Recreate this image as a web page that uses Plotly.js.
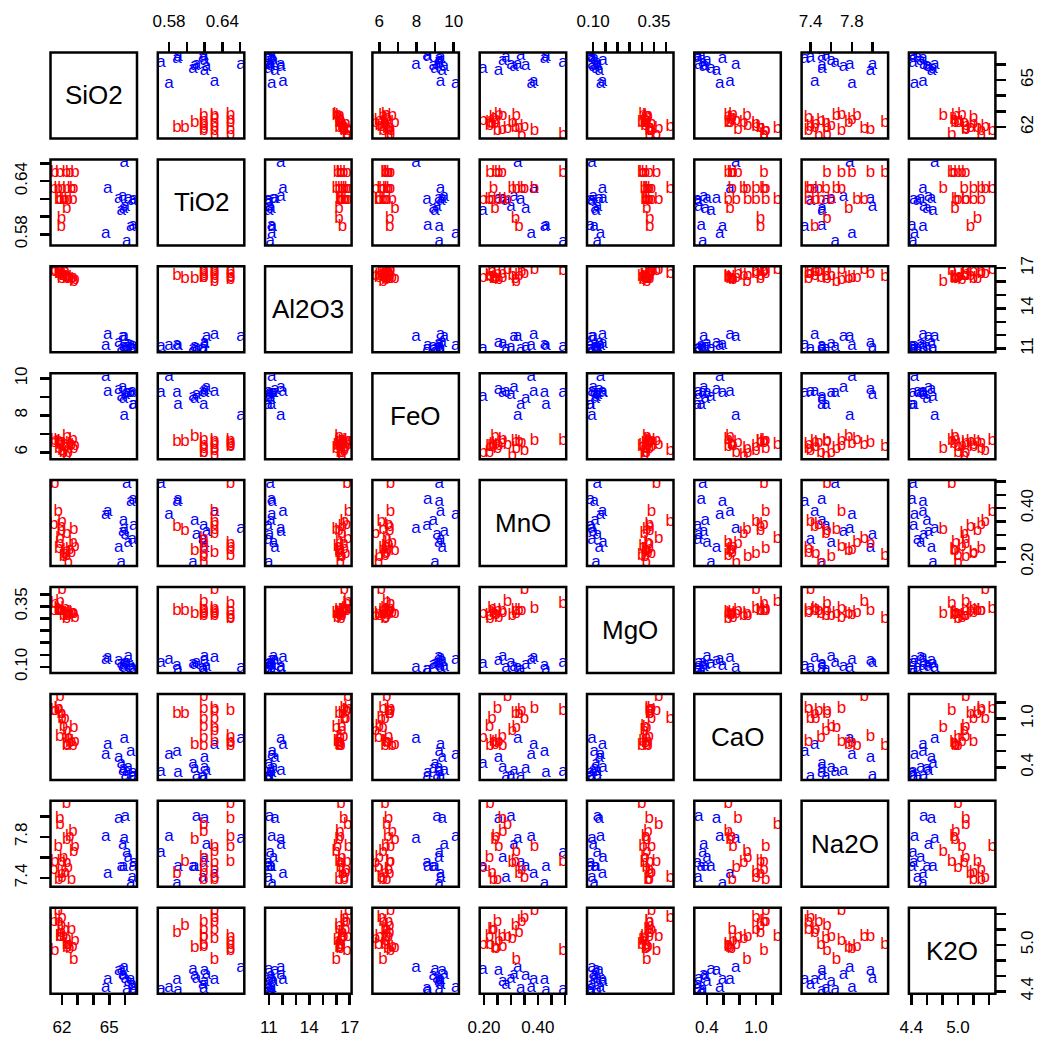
<!DOCTYPE html>
<html>
<head>
<meta charset="utf-8">
<script src="https://cdn.plot.ly/plotly-3.0.1.min.js"></script>
<style>
  html, body { margin: 0; padding: 0; background: #ffffff; }
  #chart { width: 1037px; height: 1038px; }
</style>
</head>
<body>
<div id="chart"></div>
<script>
// Oxide composition (wt%) of two glass groups, a (first 14) and b (last 20)
const group = [
  'a','a','a','a','a','a','a','a','a','a','a','a','a','a',
  'b','b','b','b','b','b','b','b','b','b','b','b','b','b','b','b','b','b','b','b'
];

const SiO2 = [
  64.77, 64.90, 66.10, 66.35, 66.50, 65.75, 65.90, 66.00, 66.45, 66.20, 65.60, 65.85, 66.55, 65.95,
  61.95, 61.98, 62.30, 61.88, 61.80, 62.10, 62.40, 62.70, 62.20, 61.76, 62.00, 62.30, 62.60, 62.74, 61.48, 61.54, 61.86, 62.29, 62.50, 62.82
];
const TiO2 = [
  0.580, 0.631, 0.571, 0.589, 0.590, 0.607, 0.609, 0.611, 0.618, 0.620, 0.620, 0.622, 0.619, 0.661,
  0.589, 0.598, 0.609, 0.619, 0.619, 0.619, 0.619, 0.619, 0.619, 0.631, 0.631, 0.631, 0.631, 0.631, 0.631, 0.649, 0.649, 0.649, 0.649, 0.649
];
const Al2O3 = [
  11.22, 12.05, 11.10, 11.25, 11.20, 11.00, 11.15, 11.05, 10.98, 11.35, 11.45, 11.90, 10.96, 11.88,
  16.46, 16.21, 16.21, 16.85, 16.60, 16.40, 16.30, 16.25, 16.70, 16.90, 16.60, 16.40, 16.20, 16.00, 16.75, 16.80, 16.55, 16.35, 16.30, 16.10
];
const FeO = [
  10.11, 9.29, 9.23, 9.23, 8.60, 9.00, 8.90, 9.10, 9.30, 9.20, 9.39, 9.50, 8.57, 7.98,
  6.56, 6.56, 6.84, 6.40, 6.20, 6.00, 5.95, 6.70, 6.30, 6.60, 6.10, 5.80, 6.40, 6.20, 6.50, 6.60, 6.50, 6.30, 6.45, 6.35
];
const MnO = [
  0.375, 0.385, 0.493, 0.424, 0.430, 0.196, 0.355, 0.300, 0.282, 0.270, 0.254, 0.311, 0.336, 0.325,
  0.330, 0.317, 0.241, 0.287, 0.250, 0.220, 0.196, 0.270, 0.230, 0.387, 0.350, 0.305, 0.235, 0.320, 0.340, 0.493, 0.268, 0.222, 0.245, 0.255
];
const MgO = [
  0.130, 0.138, 0.117, 0.105, 0.088, 0.112, 0.108, 0.118, 0.095, 0.140, 0.125, 0.100, 0.090, 0.095,
  0.333, 0.333, 0.320, 0.370, 0.330, 0.313, 0.318, 0.325, 0.340, 0.340, 0.417, 0.310, 0.325, 0.320, 0.330, 0.360, 0.330, 0.300, 0.315, 0.305
];
const CaO = [
  0.557, 0.682, 0.350, 0.590, 0.330, 0.450, 0.380, 0.300, 0.290, 0.400, 0.516, 0.360, 0.285, 0.753,
  1.055, 1.055, 0.682, 1.265, 1.120, 0.900, 0.760, 0.660, 1.000, 1.120, 1.000, 0.850, 0.710, 0.890, 1.100, 1.100, 0.780, 0.660, 0.700, 0.720
];
const Na2O = [
  7.80, 7.44, 7.64, 7.344, 7.507, 7.51, 7.51, 8.00, 7.40, 7.60, 7.98, 7.72, 7.55, 7.78,
  7.44, 7.56, 7.77, 7.92, 7.38, 7.60, 7.50, 7.85, 7.45, 7.70, 7.40, 7.55, 7.38, 7.65, 7.48, 7.56, 7.98, 8.12, 7.80, 7.70
];
const K2O = [
  4.44, 4.55, 4.42, 4.55, 4.41, 4.68, 4.60, 4.56, 4.48, 4.52, 4.66, 4.62, 4.43, 4.70,
  5.16, 5.25, 4.96, 5.10, 5.30, 5.10, 5.00, 4.97, 5.20, 5.44, 5.35, 5.08, 5.20, 4.81, 5.30, 4.92, 5.10, 5.00, 4.95, 5.05
];

const varNames = ['SiO2', 'TiO2', 'Al2O3', 'FeO', 'MnO', 'MgO', 'CaO', 'Na2O', 'K2O'];
const columns = [SiO2, TiO2, Al2O3, FeO, MnO, MgO, CaO, Na2O, K2O];

// Axis ticks and the subset of tick labels printed
const tickValues = [
  [62, 63, 64, 65, 66],
  [0.58, 0.60, 0.62, 0.64, 0.66],
  [11, 12, 13, 14, 15, 16, 17],
  [6, 7, 8, 9, 10],
  [0.20, 0.25, 0.30, 0.35, 0.40, 0.45, 0.50],
  [0.10, 0.15, 0.20, 0.25, 0.30, 0.35, 0.40],
  [0.4, 0.6, 0.8, 1.0, 1.2],
  [7.4, 7.6, 7.8, 8.0],
  [4.4, 4.6, 4.8, 5.0, 5.2, 5.4]
];
const tickLabels = [
  ['62', '', '', '65', ''],
  ['0.58', '', '', '0.64', ''],
  ['11', '', '', '14', '', '', '17'],
  ['6', '', '8', '', '10'],
  ['0.20', '', '', '', '0.40', '', ''],
  ['0.10', '', '', '', '', '0.35', ''],
  ['0.4', '', '', '1.0', ''],
  ['7.4', '', '7.8', ''],
  ['4.4', '', '', '5.0', '', '']
];

// Each variable's range padded by 4% on both sides
function paddedRange(v) {
  const lo = Math.min(...v), hi = Math.max(...v);
  const pad = (hi - lo) * 0.04;
  return [lo - pad, hi + pad];
}

const groupColors = { a: '#0000ff', b: '#ff0000' };
const FONT = 'Liberation Sans, Arial, Helvetica, sans-serif';

// Panel geometry in pixels
const W = 1037, H = 1038;
const left0 = 50.5, top0 = 52.5, stepX = 107.3, stepY = 106.9, panelW = 86.5, panelH = 86;

const n = varNames.length;
const suffix = i => (i === 0 ? '' : String(i + 1));

const traces = [];
for (let r = 0; r < n; r++) {
  for (let c = 0; c < n; c++) {
    if (r === c) continue;
    ['a', 'b'].forEach(g => {
      const xs = [], ys = [], labels = [];
      for (let k = 0; k < group.length; k++) {
        if (group[k] !== g) continue;
        xs.push(columns[c][k]);
        ys.push(columns[r][k]);
        labels.push(g);
      }
      traces.push({
        type: 'scatter',
        mode: 'text',
        x: xs,
        y: ys,
        text: labels,
        textposition: 'middle center',
        textfont: { family: FONT, size: 17, color: groupColors[g] },
        xaxis: 'x' + suffix(c),
        yaxis: 'y' + suffix(r),
        hoverinfo: 'x+y',
        showlegend: false,
        cliponaxis: true
      });
    });
  }
}

const layout = {
  width: W,
  height: H,
  margin: { l: 0, r: 0, t: 0, b: 0 },
  paper_bgcolor: '#ffffff',
  plot_bgcolor: '#ffffff',
  showlegend: false,
  font: { family: FONT, color: '#000000' },
  shapes: [],
  annotations: []
};

for (let i = 0; i < n; i++) {
  const x0 = left0 + i * stepX, x1 = x0 + panelW;
  const y0 = top0 + i * stepY, y1 = y0 + panelH;
  const rng = paddedRange(columns[i]);
  const common = {
    range: rng,
    tickmode: 'array',
    tickvals: tickValues[i],
    ticktext: tickLabels[i],
    ticks: 'outside',
    ticklen: 10,
    tickwidth: 2.5,
    tickcolor: '#000000',
    tickfont: { family: FONT, size: 17, color: '#000000' },
    showgrid: false,
    zeroline: false,
    showline: false,
    fixedrange: true
  };
  layout['xaxis' + suffix(i)] = Object.assign({}, common, {
    domain: [x0 / W, x1 / W],
    side: i % 2 === 1 ? 'top' : 'bottom',
    anchor: i % 2 === 1 ? 'y' : 'y9',
    tickangle: 0,
    ticklabelstandoff: 8
  });
  layout['yaxis' + suffix(i)] = Object.assign({}, common, {
    domain: [1 - y1 / H, 1 - y0 / H],
    side: i % 2 === 1 ? 'left' : 'right',
    anchor: i % 2 === 1 ? 'x' : 'x9',
    tickangle: -90,
    ticklabelstandoff: 6
  });
}

// Panel frames and variable names on the diagonal
for (let r = 0; r < n; r++) {
  for (let c = 0; c < n; c++) {
    layout.shapes.push({
      type: 'rect',
      xref: 'x' + suffix(c) + ' domain',
      yref: 'y' + suffix(r) + ' domain',
      x0: 0, x1: 1, y0: 0, y1: 1,
      line: { color: '#000000', width: 2.5 },
      fillcolor: 'rgba(0,0,0,0)',
      layer: 'above'
    });
  }
  layout.annotations.push({
    text: varNames[r],
    xref: 'x' + suffix(r) + ' domain',
    yref: 'y' + suffix(r) + ' domain',
    x: 0.5, y: 0.5,
    xanchor: 'center', yanchor: 'middle',
    showarrow: false,
    font: { family: FONT, size: 26, color: '#000000' }
  });
}

Plotly.newPlot('chart', traces, layout, { displayModeBar: false, staticPlot: true });
</script>
</body>
</html>
